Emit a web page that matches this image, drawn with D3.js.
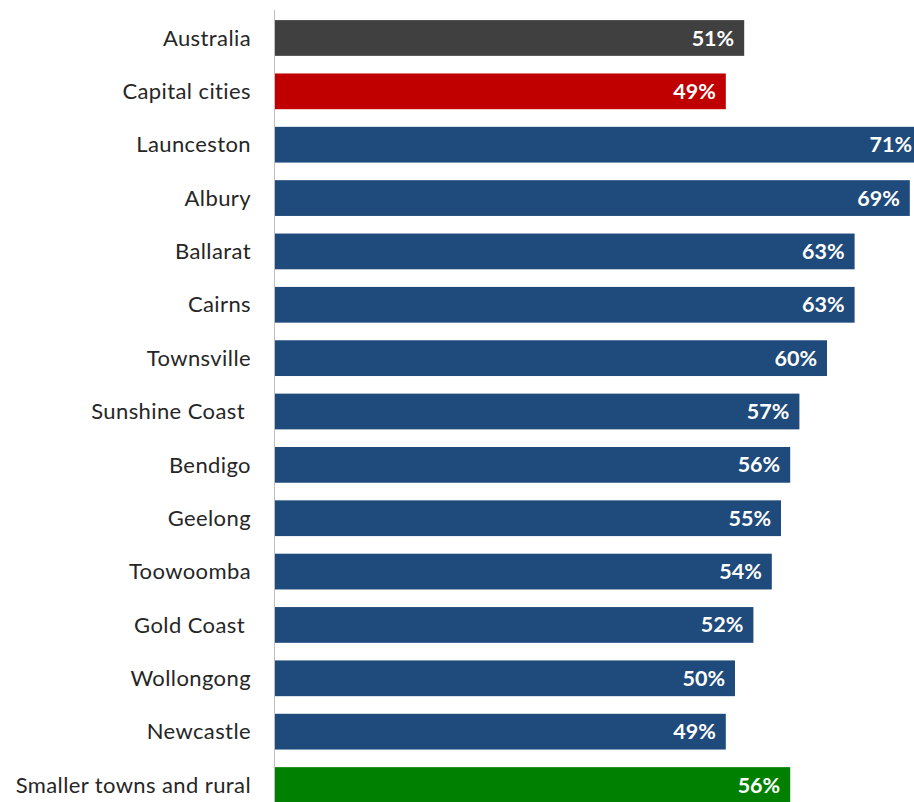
<!DOCTYPE html>
<html>
<head>
<meta charset="utf-8">
<script src="https://cdn.jsdelivr.net/npm/d3@7"></script>
<style>
  html, body { margin: 0; padding: 0; background: #fff; overflow: hidden; }
  svg { display: block; }
</style>
</head>
<body>
<svg id="chart" width="914" height="802"></svg>
<script>
const categories = [
  "Australia", "Capital cities", "Launceston", "Albury", "Ballarat", "Cairns",
  "Townsville", "Sunshine Coast ", "Bendigo", "Geelong", "Toowoomba",
  "Gold Coast ", "Wollongong", "Newcastle", "Smaller towns and rural"
];
const values = [51, 49, 71, 69, 63, 63, 60, 57, 56, 55, 54, 52, 50, 49, 56];
const groups = [
  "national", "capital", "regional", "regional", "regional", "regional",
  "regional", "regional", "regional", "regional", "regional",
  "regional", "regional", "regional", "rural"
];
const groupColors = {
  national: "#404040",
  capital: "#C00000",
  regional: "#1F4A7C",
  rural: "#008000"
};

const width = 914, height = 802;
const axisX = 275;
const svg = d3.select("#chart");

// Horizontal value scale: bars run off the right edge for the largest value
const x = d3.scaleLinear().domain([0, 100]).range([axisX, axisX + 920]);
const y = d3.scaleBand()
  .domain(categories)
  .range([11.3, 11.3 + 53.36 * categories.length])
  .paddingInner(0.33)
  .paddingOuter(0.165);

const rows = categories.map((c, i) => ({ name: c, value: values[i], group: groups[i] }));

svg.append("g").selectAll("rect")
  .data(rows)
  .join("rect")
  .attr("x", axisX)
  .attr("y", d => y(d.name))
  .attr("width", d => x(d.value) - axisX)
  .attr("height", y.bandwidth())
  .attr("fill", d => groupColors[d.group]);

// Vertical category axis line
svg.append("line")
  .attr("x1", axisX - 0.5).attr("x2", axisX - 0.5)
  .attr("y1", 10).attr("y2", height)
  .attr("stroke", "#bfbfbf").attr("stroke-width", 1);

// Category labels
svg.append("g").selectAll("text")
  .data(rows)
  .join("text")
  .attr("x", 251)
  .attr("y", d => y(d.name) + y.bandwidth() / 2)
  .attr("dy", "0.35em")
  .attr("text-anchor", "end")
  .attr("font-family", "Lato, 'Open Sans', sans-serif")
  .attr("font-size", 22)
  .attr("letter-spacing", 0.4)
  .attr("fill", "#262626")
  .style("white-space", "pre")
  .text(d => d.name);

// Value labels inside bar ends
svg.append("g").selectAll("text")
  .data(rows)
  .join("text")
  .attr("x", d => Math.min(x(d.value) - 10, width - 2))
  .attr("y", d => y(d.name) + y.bandwidth() / 2)
  .attr("dy", "0.35em")
  .attr("text-anchor", "end")
  .attr("font-family", "Lato, 'Open Sans', sans-serif")
  .attr("font-weight", "bold")
  .attr("font-size", 21.5)
  .attr("fill", "#ffffff")
  .text(d => d.value + "%");
</script>
</body>
</html>
